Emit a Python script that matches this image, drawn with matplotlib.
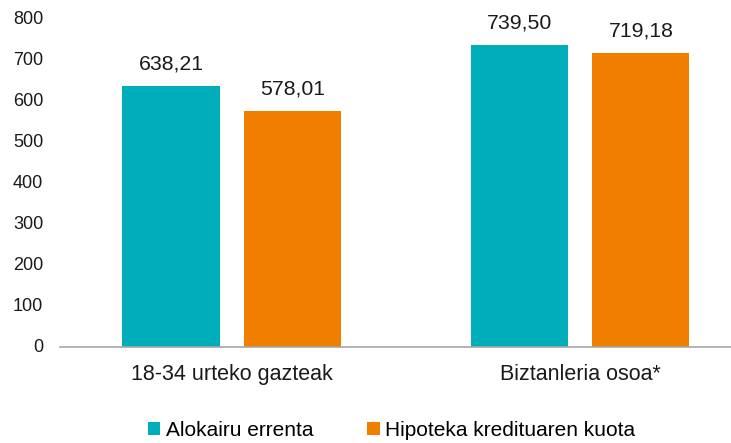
import matplotlib
matplotlib.use("Agg")
import matplotlib.pyplot as plt
from matplotlib.patches import Patch
from matplotlib.transforms import ScaledTranslation

plt.rcParams['font.family'] = ['Liberation Sans', 'DejaVu Sans']

categories = ["18-34 urteko gazteak", "Biztanleria osoa*"]
series_names = ["Alokairu errenta", "Hipoteka kredituaren kuota"]
alokairu = [638.21, 739.50]
hipoteka = [578.01, 719.18]
yticks = [0, 100, 200, 300, 400, 500, 600, 700, 800]
colors = ["#00AEBB", "#F07F00"]

fig = plt.figure(figsize=(7.31, 4.43), dpi=100)
ax = fig.add_axes([60/731, 96/443, 671/731, 327/443])

x = list(range(len(categories)))
w = 0.279
off = 0.175
series = [alokairu, hipoteka]
for i, (vals, col) in enumerate(zip(series, colors)):
    xs = [xi + (off if i else -off) for xi in x]
    bars = ax.bar(xs, vals, width=w, color=col, label=series_names[i])
    for b, v in zip(bars, vals):
        ax.annotate(f"{v:.2f}".replace(".", ","), (b.get_x() + b.get_width()/2, v),
                    xytext=(0, 9), textcoords="offset points",
                    ha="center", va="bottom", fontsize=15.3, color="#1a1a1a")

ax.set_ylim(0, 800)
ax.set_xlim(-0.494, 1.434)
ax.set_yticks(yticks)
ax.set_yticklabels([str(t) for t in yticks])
ax.set_xticks(x)
ax.set_xticklabels(categories)
ax.tick_params(axis='y', length=0, pad=12, labelsize=13, colors="#1a1a1a")
ax.tick_params(axis='x', length=0, pad=12, labelsize=15.5, colors="#1a1a1a")
shift = ScaledTranslation(0, 2/100, fig.dpi_scale_trans)
for lab in ax.get_yticklabels():
    lab.set_transform(lab.get_transform() + shift)
for s in ["top", "right", "left"]:
    ax.spines[s].set_visible(False)
ax.spines["bottom"].set_color("#A6A6A6")
ax.spines["bottom"].set_linewidth(1.2)

handles = [Patch(facecolor=c, label=n) for c, n in zip(colors, series_names)]
fig.legend(handles=handles, loc="center", bbox_to_anchor=(0.5356, 13/443), ncol=2,
           frameon=False, fontsize=15, handlelength=0.6, handleheight=0.6,
           handletextpad=0.25, columnspacing=2.6, borderpad=0)

fig.savefig("out.png", dpi=100)
